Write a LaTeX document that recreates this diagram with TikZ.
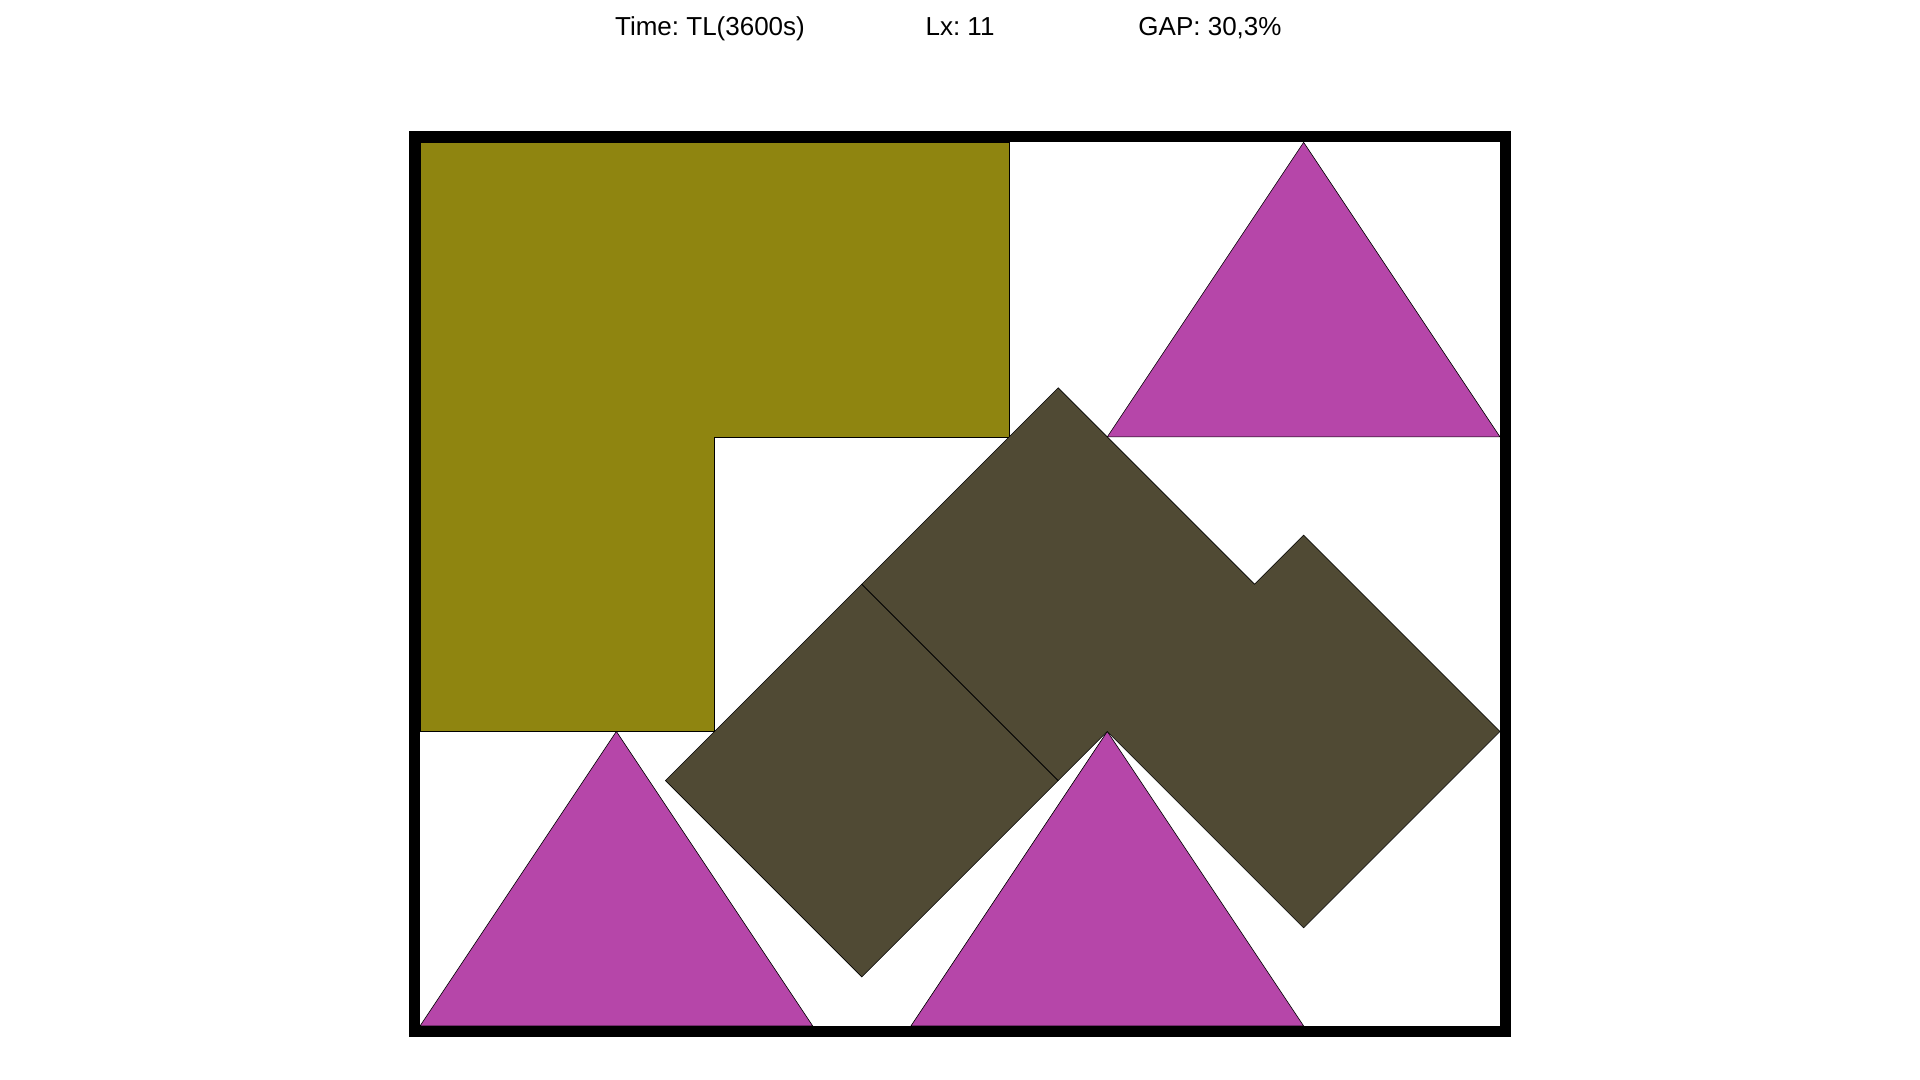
\documentclass[tikz,border=0pt]{standalone}
\usepackage{fontspec}
\setmainfont{Liberation Sans}
\usepackage{xcolor}
\usepackage{tikz}
\usetikzlibrary{positioning}
\definecolor{lpiece}{HTML}{8F8510}
\definecolor{tripiece}{HTML}{B646A9}
\definecolor{sqpiece}{HTML}{504A34}
\frenchspacing

\begin{document}
\begin{tikzpicture}[x=0.5pt, y=0.5pt,
  hdr/.style={anchor=base, inner sep=0pt, font=\fontsize{13}{15}\selectfont},
  piece/.style={draw=black, line width=0.3pt, line join=miter},
  strip/.style={draw=black, line width=5.5pt}]

\useasboundingbox (0,0) rectangle (1920,1080);

\node[hdr] (time) at (710,1044) {Time: TL(3600s)};
\node[hdr] (lx) at (960,1044) {Lx: 11};
\node[hdr] (gap) at (1210,1044) {GAP: 30,3\%};

\begin{scope}[shift={(210pt,27pt)}, x=49.09pt, y=49.09pt]
% L piece
\filldraw[piece, fill=lpiece] (0,3) -- (3,3) -- (3,6) -- (6,6) -- (6,9) -- (0,9) -- cycle;
% triangles
\filldraw[piece, fill=tripiece] (7,6) -- (11,6) -- (9,9) -- cycle;
\filldraw[piece, fill=tripiece] (0,0) -- (4,0) -- (2,3) -- cycle;
\filldraw[piece, fill=tripiece] (5,0) -- (9,0) -- (7,3) -- cycle;
% rotated squares
\filldraw[piece, fill=sqpiece] (2.5,2.5) -- (4.5,4.5) -- (6.5,2.5) -- (4.5,0.5) -- cycle;
\filldraw[piece, fill=sqpiece] (4.5,4.5) -- (6.5,6.5) -- (8.5,4.5) -- (9,5) -- (11,3) -- (9,1) -- (7,3) -- (6.5,2.5) -- cycle;
% strip border
\draw[strip] (-0.056,-0.056) rectangle (11.056,9.056);
\end{scope}
\end{tikzpicture}
\end{document}
